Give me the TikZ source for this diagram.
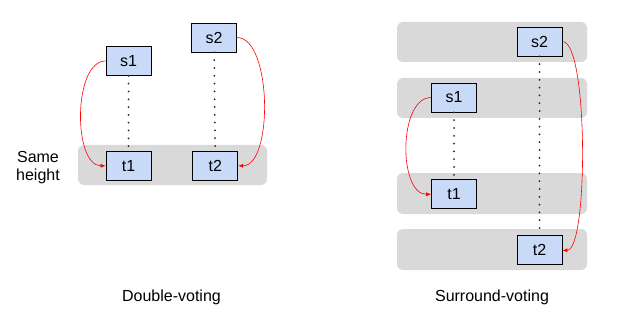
\documentclass[tikz,border=0pt]{standalone}
\usepackage{fontspec}
\setmainfont{Liberation Sans}
\usepackage{xcolor}
\usetikzlibrary{arrows.meta, positioning}

\definecolor{boxblue}{HTML}{C9DAF8}
\definecolor{bandgray}{HTML}{D9D9D9}

\begin{document}
\begin{tikzpicture}[
    x=1pt, y=-1pt,
    font=\fontsize{16}{18}\selectfont,
    slot/.style={rectangle, draw=black, line width=0.8pt, fill=boxblue, minimum width=45pt, minimum height=29pt, inner sep=0pt},
    band/.style={fill=bandgray, rounded corners=6pt},
    link/.style={line width=2pt, draw=black!85, dash pattern=on 0pt off 7.8pt, line cap=round},
    vote/.style={-{Latex[length=5pt, width=4pt]}, red, line width=0.6pt}
]
\useasboundingbox (0,0) rectangle (620,323);

% gray bands
\fill[band] (78,145) rectangle (267,185);
\fill[band] (397,22) rectangle (587,62);
\fill[band] (397,78) rectangle (587,118);
\fill[band] (397,173) rectangle (587,214);
\fill[band] (397,229) rectangle (587,270);

% double-voting
\node[slot] (ls1) at (128.5,61) {s1};
\node[slot, below=75pt of ls1] (lt1) {t1};
\node[slot, right=41pt of lt1] (lt2) {t2};
\node[slot] (ls2) at (214,37.5) {s2};
\node[align=center] (same) at (38,167.5) {Same\\height};

\draw[link] (ls1) -- (lt1);
\draw[link] (ls2) -- (lt2);
\draw[vote] (ls1.west) to[out=180, in=180, looseness=0.8] (lt1.west);
\draw[vote] (ls2.east) to[out=0, in=0, looseness=0.7] (lt2.east);

% surround-voting
\node[slot] (rs2) at (539.5,41.5) {s2};
\node[slot] (rs1) at (454,97.5) {s1};
\node[slot, below=67pt of rs1] (rt1) {t1};
\node[slot, below=179pt of rs2] (rt2) {t2};

\draw[link] (rs1) -- (rt1);
\draw[link] (rs2) -- (rt2);
\draw[vote] (rs1.west) to[out=180, in=180, looseness=0.87] (rt1.west);
\draw[vote] (rs2.east) to[out=0, in=0, looseness=0.32] (rt2.east);

% captions
\node (double) at (171.5,297) {Double-voting};
\node (surround) at (492,297) {Surround-voting};
\end{tikzpicture}
\end{document}
